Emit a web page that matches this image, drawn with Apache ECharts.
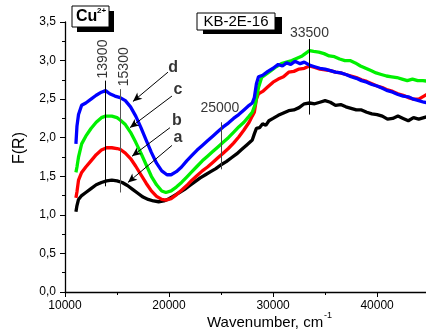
<!DOCTYPE html>
<html><head><meta charset="utf-8">
<script src="https://cdn.jsdelivr.net/npm/echarts@6/dist/echarts.min.js"></script>
<style>html,body{margin:0;padding:0;background:#fff}#c{width:426px;height:333px}</style>
</head><body><div id="c"></div>
<script>
// Wavenumber (cm^-1) and F(R) values for each curve
const wnA = [11050,11150,11300,11600,12000,12500,13000,13500,14000,14500,15000,15500,16000,16500,17000,17500,18000,18500,19000,19500,20000,20500,21000,21500,22000,22500,23000,23500,24000,24500,25000,25500,26000,26500,27000,27500,28000,28200,28400,28700,29000,29300,29600,30000,30500,31000,31500,32000,32500,33000,33500,34000,34500,35000,35500,36000,36500,37000,37500,38000,38500,39000,39500,40000,40500,41000,41500,42000,42500,43000,43500,44000,44500,45000];
const fA = [1.04,1.12,1.20,1.25,1.29,1.34,1.39,1.42,1.44,1.45,1.44,1.42,1.38,1.33,1.28,1.23,1.20,1.18,1.17,1.18,1.21,1.25,1.29,1.33,1.38,1.43,1.48,1.52,1.56,1.60,1.65,1.69,1.74,1.79,1.85,1.91,1.97,2.05,2.12,2.13,2.18,2.16,2.22,2.25,2.29,2.32,2.35,2.36,2.39,2.44,2.45,2.44,2.46,2.48,2.46,2.42,2.43,2.40,2.38,2.36,2.36,2.33,2.31,2.30,2.28,2.24,2.25,2.28,2.25,2.22,2.26,2.24,2.26,2.28];

const wnB = [11050,11150,11300,11600,12000,12500,13000,13500,14000,14500,15000,15300,15800,16300,16800,17300,17800,18300,18800,19300,19700,20200,20700,21200,21700,22200,22700,23200,23700,24200,24700,25200,25700,26200,26700,27200,27700,28000,28200,28400,28600,29000,29500,30000,30500,31000,31500,32000,32500,33000,33500,34000,34500,35000,35500,36000,36500,37000,37500,38000,38500,39000,39500,40000,40500,41000,41500,42000,42500,43000,43500,44000,44500,45000];
const fB = [1.22,1.30,1.45,1.55,1.62,1.70,1.78,1.84,1.87,1.87,1.86,1.85,1.80,1.73,1.63,1.52,1.41,1.31,1.24,1.20,1.19,1.21,1.26,1.32,1.38,1.45,1.51,1.57,1.62,1.68,1.74,1.80,1.86,1.93,2.01,2.10,2.20,2.28,2.33,2.50,2.57,2.60,2.66,2.72,2.76,2.79,2.85,2.86,2.89,2.90,2.93,2.91,2.89,2.88,2.87,2.85,2.84,2.82,2.80,2.78,2.75,2.73,2.70,2.67,2.65,2.62,2.60,2.57,2.55,2.52,2.50,2.50,2.54,2.58];

const wnC = [11050,11150,11300,11600,12000,12500,13000,13500,13900,14500,15000,15300,15800,16300,16800,17300,17800,18300,18800,19300,19700,20200,20700,21200,21700,22200,22700,23200,23700,24200,24700,25200,25700,26200,26700,27200,27700,28000,28300,28600,28900,29300,29800,30300,30800,31300,31800,32300,32800,33200,33500,33900,34400,34900,35400,35900,36400,36900,37400,37900,38400,38900,39400,39900,40400,40900,41400,41900,42400,42900,43400,43900,44400,45000];
const fC = [1.55,1.62,1.75,1.92,2.02,2.12,2.20,2.26,2.28,2.28,2.26,2.23,2.17,2.07,1.94,1.80,1.65,1.50,1.39,1.31,1.29,1.31,1.36,1.42,1.49,1.56,1.63,1.70,1.76,1.82,1.88,1.94,2.00,2.07,2.14,2.20,2.28,2.33,2.44,2.65,2.78,2.82,2.87,2.92,2.96,2.98,3.00,3.03,3.06,3.10,3.13,3.12,3.11,3.09,3.06,3.05,3.02,3.00,3.00,2.97,2.93,2.90,2.87,2.84,2.82,2.80,2.79,2.78,2.76,2.74,2.76,2.74,2.74,2.73];

const wnD = [11050,11150,11300,11600,12000,12500,13000,13500,13900,14300,14800,15300,15800,16300,16800,17300,17800,18300,18800,19300,19800,20200,20700,21200,21700,22200,22700,23200,23700,24200,24700,25200,25700,26200,26700,27200,27700,28000,28200,28400,28600,29000,29500,30000,30500,30900,31300,31700,32100,32600,33000,33500,34000,34500,35000,35500,36000,36500,37000,37500,38000,38500,39000,39500,40000,40500,41000,41500,42000,42500,43000,43500,44000,44500,45000];
const fD = [1.92,2.15,2.30,2.42,2.45,2.50,2.55,2.59,2.61,2.57,2.54,2.52,2.48,2.40,2.28,2.13,1.97,1.81,1.67,1.57,1.52,1.52,1.56,1.62,1.70,1.77,1.84,1.90,1.96,2.02,2.08,2.14,2.19,2.25,2.30,2.36,2.42,2.45,2.52,2.70,2.79,2.81,2.86,2.90,2.95,2.93,2.97,2.95,2.99,2.96,2.98,2.94,2.92,2.90,2.89,2.87,2.85,2.84,2.82,2.79,2.77,2.74,2.72,2.69,2.67,2.64,2.61,2.59,2.56,2.54,2.53,2.50,2.48,2.46,2.45];

// Annotation values
const markerWn = [13900, 15300, 25000, 33500];
const markerLow = [1.37, 1.29, 1.59, 2.30];
const markerHigh = [2.74, 2.63, 2.20, 3.28];
const markerColor = ['#000', '#555', '#444', '#000'];
const markerText = ['13900', '15300', '25000', '33500'];
const markerTextPos = [[13680, 3.02], [15650, 2.92], [24890, 2.38], [33500, 3.36]];
const markerTextRot = [90, 90, 0, 0];

const letters = ['a', 'b', 'c', 'd'];
const arrowStart = [[20280, 1.90], [20090, 2.13], [20280, 2.54], [19900, 2.85]];
const arrowEnd = [[16050, 1.42], [16440, 1.76], [16240, 2.13], [16530, 2.47]];
const letterPos = [[20850, 2.00], [20760, 2.22], [20850, 2.63], [20400, 2.91]];

const xMin = 10000, xMax = 44700, xMajor = 10000, xMinor = 5000;
const yTicks = [0, 0.5, 1, 1.5, 2, 2.5, 3, 3.5];

const zip = (xs, ys) => xs.map((x, i) => [x, ys[i]]);
const FONT = '"Liberation Sans", Arial, sans-serif';

const curveSeries = [
  {name: 'a', d: zip(wnA, fA), c: '#000000'},
  {name: 'b', d: zip(wnB, fB), c: '#ff0000'},
  {name: 'c', d: zip(wnC, fC), c: '#00f000'},
  {name: 'd', d: zip(wnD, fD), c: '#0000ff'}
].map(s => ({
  name: s.name, type: 'line', data: s.d, showSymbol: false, symbol: 'none',
  lineStyle: {color: s.c, width: 3.3}, itemStyle: {color: s.c}, animation: false, z: 3
}));

const markLineData = [];
markerWn.forEach((w, i) => {
  markLineData.push([
    {coord: [w, markerLow[i]], symbol: 'none', lineStyle: {color: markerColor[i], width: 1, type: 'solid'}},
    {coord: [w, markerHigh[i]], symbol: 'none'}
  ]);
});
letters.forEach((l, i) => {
  markLineData.push([
    {coord: arrowStart[i], symbol: 'none', lineStyle: {color: '#000', width: 1, type: 'solid'}},
    {coord: arrowEnd[i], symbol: 'arrow', symbolSize: [6, 9]}
  ]);
});

const labelData = [];
markerText.forEach((t, i) => {
  labelData.push({name: t, value: markerTextPos[i], label: {rotate: markerTextRot[i], fontSize: 14}});
});
letters.forEach((l, i) => {
  labelData.push({name: l, value: letterPos[i], label: {fontSize: 16, fontWeight: 'bold'}});
});

const annot = {
  type: 'scatter', data: labelData, symbolSize: 0, silent: true, animation: false, z: 5,
  label: {show: true, position: 'inside', formatter: '{b}', color: '#000', fontFamily: FONT},
  markLine: {silent: true, animation: false, symbol: 'none', label: {show: false},
    lineStyle: {color: '#000', width: 1, type: 'solid'}, data: markLineData}
};

const chart = echarts.init(document.getElementById('c'), null, {renderer: 'canvas'});
chart.setOption({
  animation: false,
  backgroundColor: '#fff',
  grid: {left: 65, top: 22, right: 0, height: 270, containLabel: false},
  xAxis: [{
    type: 'value', min: xMin, max: xMax, interval: xMajor,
    axisLine: {show: true, lineStyle: {color: '#000', width: 1.3}},
    axisTick: {show: true, length: 5, lineStyle: {color: '#000'}},
    splitLine: {show: false},
    axisLabel: {color: '#000', fontSize: 12, fontFamily: FONT, margin: 8, showMaxLabel: false,
      formatter: v => String(v)}
  }, {
    type: 'value', min: xMin, max: xMax, interval: xMinor, position: 'bottom',
    axisLine: {show: false},
    axisTick: {show: true, length: 3, lineStyle: {color: '#000'}},
    splitLine: {show: false},
    axisLabel: {show: false}
  }],
  yAxis: {
    type: 'value', min: yTicks[0], max: yTicks[yTicks.length - 1], interval: 0.5,
    axisLine: {show: true, lineStyle: {color: '#000', width: 1.3}},
    axisTick: {show: true, length: 5, lineStyle: {color: '#000'}},
    minorTick: {show: true, splitNumber: 2, length: 3, lineStyle: {color: '#000'}},
    splitLine: {show: false},
    axisLabel: {color: '#000', fontSize: 12, fontFamily: FONT, margin: 9,
      formatter: v => v.toFixed(1).replace('.', ',')}
  },
  series: curveSeries.concat([annot]),
  graphic: [
    {type: 'rect', shape: {x: 77, y: 11, width: 37, height: 21}, style: {fill: '#000'}, z: 10},
    {type: 'rect', shape: {x: 72, y: 6, width: 37, height: 21}, style: {fill: '#fff', stroke: '#000', lineWidth: 1}, z: 11},
    {type: 'text', x: 76, y: 17, style: {text: 'Cu', fontSize: 16, fontWeight: 'bold', fontFamily: FONT, fill: '#000', verticalAlign: 'middle'}, z: 12},
    {type: 'text', x: 97, y: 11, style: {text: '2+', fontSize: 8, fontWeight: 'bold', fontFamily: FONT, fill: '#000', verticalAlign: 'middle'}, z: 12},
    {type: 'rect', shape: {x: 203, y: 17, width: 79, height: 17}, style: {fill: '#000'}, z: 10},
    {type: 'rect', shape: {x: 197, y: 13, width: 78, height: 17}, style: {fill: '#fff', stroke: '#000', lineWidth: 1}, z: 11},
    {type: 'text', x: 236, y: 22, style: {text: 'KB-2E-16', fontSize: 15, fontFamily: FONT, fill: '#000', align: 'center', verticalAlign: 'middle'}, z: 12},
    {type: 'text', x: 20, y: 148, rotation: Math.PI / 2, style: {text: 'F(R)', fontSize: 16, fontFamily: FONT, fill: '#000', align: 'center', verticalAlign: 'middle'}},
    {type: 'text', x: 207, y: 323, style: {text: 'Wavenumber, cm', fontSize: 15, fontFamily: FONT, fill: '#000', verticalAlign: 'middle'}},
    {type: 'text', x: 324, y: 316, style: {text: '-1', fontSize: 9, fontFamily: FONT, fill: '#000', verticalAlign: 'middle'}}
  ]
});
</script></body></html>
